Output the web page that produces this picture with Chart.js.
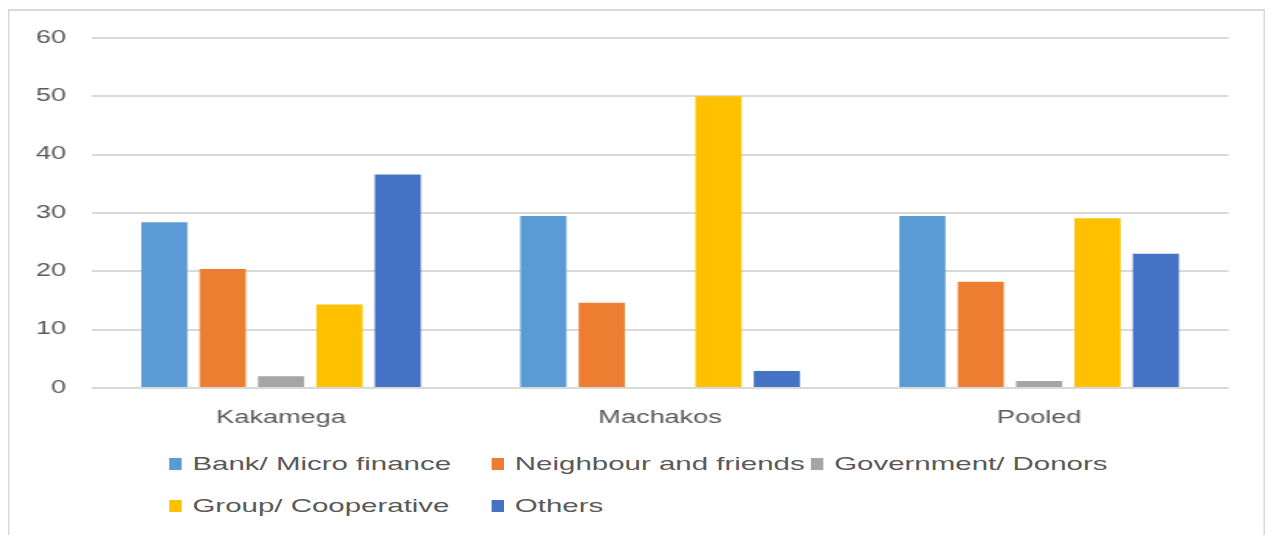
<!DOCTYPE html>
<html>
<head>
<meta charset="utf-8">
<script src="https://cdn.jsdelivr.net/npm/chart.js@4"></script>
<style>
  html, body { margin: 0; padding: 0; background: #fff; width: 1266px; height: 535px; overflow: hidden; }
  /* the reference is stretched sideways, so draw narrow and scale on x */
  #frame {
    position: absolute; left: 8px; top: 9px; width: 811px; height: 540px;
    box-sizing: border-box; border: 2px solid #d9d9d9;
    border-left-width: 1.3px; border-right-width: 1.3px;
    transform: scaleX(1.55); transform-origin: 0 0; background: #fff;
  }
  #plot { position: absolute; left: 0; top: 0; width: 808px; height: 440px; }
  #legend { position: absolute; left: 0; top: 0; font-family: "Liberation Sans", Arial, sans-serif; font-size: 19px; color: #595959; }
  .item { position: absolute; display: flex; align-items: center; white-space: nowrap; transform: translateY(-50%); }
  .box { width: 8px; height: 12px; margin-right: 7px; }
</style>
</head>
<body>
<div id="frame">
  <div id="plot"><canvas id="chart"></canvas></div>
  <div id="legend"></div>
</div>
<script>
const categories = ['Kakamega', 'Machakos', 'Pooled'];
const seriesNames = ['Bank/ Micro finance', 'Neighbour and friends', 'Government/ Donors', 'Group/ Cooperative', 'Others'];
const seriesColours = ['#5B9BD5', '#ED7D31', '#A5A5A5', '#FFC000', '#4472C4'];

const bankMicro = [28.4, 29.5, 29.5];
const neighbourFriends = [20.4, 14.6, 18.2];
const govDonors = [2.0, 0, 1.2];
const groupCoop = [14.3, 50.0, 29.1];
const others = [36.6, 2.9, 23.0];

const yMin = 0, yMax = 60, yStep = 10;

const seriesValues = [bankMicro, neighbourFriends, govDonors, groupCoop, others];

const tickFont = { family: '"Liberation Sans", Arial, sans-serif', size: 17.5 };

new Chart(document.getElementById('chart'), {
  type: 'bar',
  data: {
    labels: categories,
    datasets: seriesNames.map((name, i) => ({
      label: name,
      data: seriesValues[i],
      backgroundColor: seriesColours[i],
      borderWidth: 0,
      categoryPercentage: 0.77,
      barPercentage: 0.79
    }))
  },
  options: {
    responsive: true,
    maintainAspectRatio: false,
    animation: false,
    layout: { padding: { left: 0, right: 21.5, top: 23, bottom: 23 } },
    plugins: { legend: { display: false }, tooltip: { enabled: false } },
    scales: {
      x: {
        grid: { display: false, drawTicks: false },
        border: { display: false },
        ticks: { color: '#595959', font: tickFont, padding: 20 },
        afterFit(scale) { scale.height = 40; }
      },
      y: {
        min: yMin, max: yMax,
        ticks: { stepSize: yStep, color: '#595959', font: tickFont, padding: 16.5 },
        grid: { color: '#d9d9d9', lineWidth: 2, drawTicks: false },
        border: { display: false },
        afterFit(scale) { scale.width = 52.9; }
      }
    }
  }
});

// legend laid out in columns like the original
const legendCols = [103, 311, 517];
const legendRows = [453, 495];
const legend = document.getElementById('legend');
seriesNames.forEach((name, i) => {
  const item = document.createElement('div');
  item.className = 'item';
  item.style.left = legendCols[i % 3] + 'px';
  item.style.top = legendRows[Math.floor(i / 3)] + 'px';
  const box = document.createElement('span');
  box.className = 'box';
  box.style.background = seriesColours[i];
  item.appendChild(box);
  item.appendChild(document.createTextNode(name));
  legend.appendChild(item);
});
</script>
</body>
</html>
